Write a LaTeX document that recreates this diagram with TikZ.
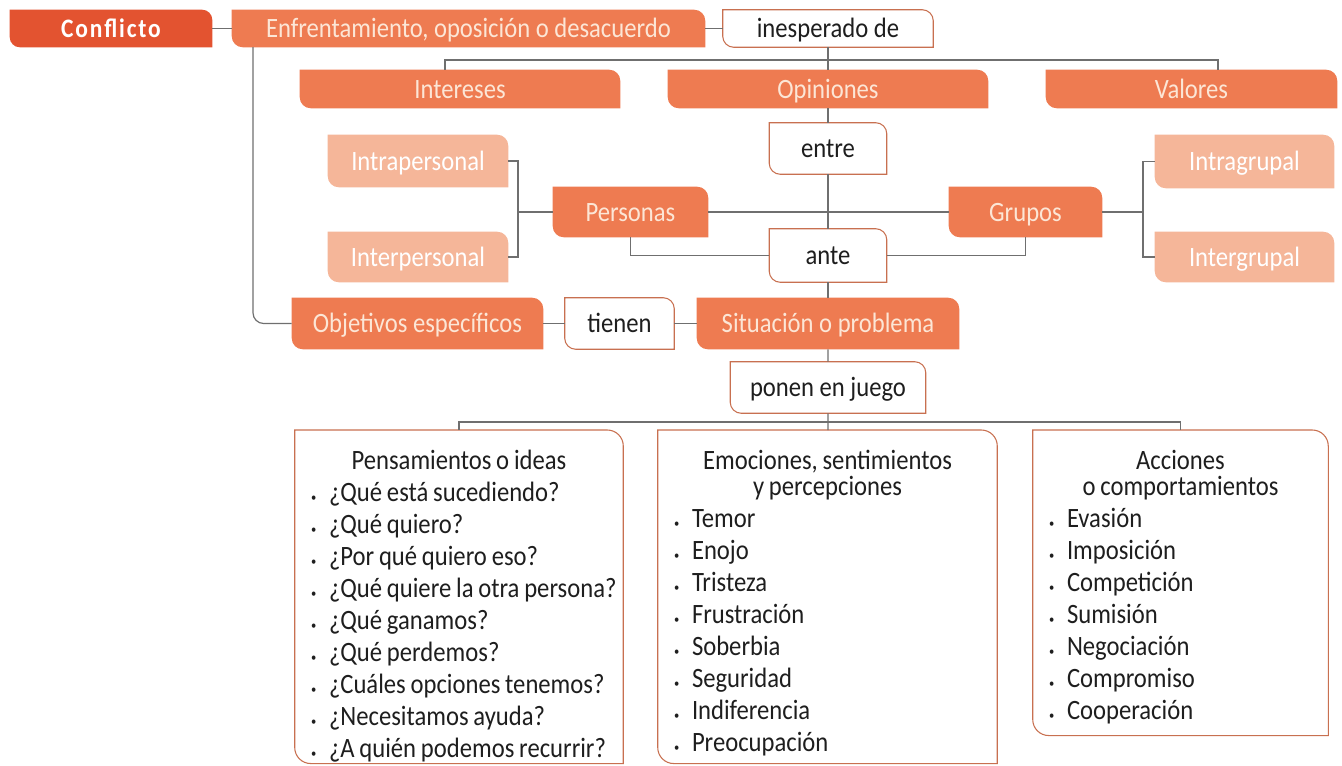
\documentclass[tikz,border=0pt]{standalone}
\usepackage{fontspec}
\setmainfont{Carlito}[FakeStretch=0.88]

\definecolor{redor}{HTML}{E35330}
\definecolor{orng}{HTML}{EE7B51}
\definecolor{salmon}{HTML}{F5B699}
\definecolor{edge}{HTML}{C87050}
\definecolor{linegray}{HTML}{6F6F6F}
\definecolor{cream}{HTML}{FCE6D6}
\definecolor{ink}{HTML}{1E1E1E}

\newdimen\pxu \pxu=0.75pt
\newskip\listspace \listspace=3.6pt plus 1pt minus 0.6pt
\pgfdeclarelayer{bg}
\pgfsetlayers{bg,main}

% box with round top right and bottom left corners
\newcommand{\tabfill}[3][11]{%
  \path[#3] (#2.north west) -- ([xshift=-#1\pxu]#2.north east)
    arc[start angle=90, end angle=0, radius=#1\pxu] -- (#2.south east)
    -- ([xshift=#1\pxu]#2.south west)
    arc[start angle=270, end angle=180, radius=#1\pxu] -- cycle;}
\newcommand{\itm}[1]{\mbox{\makebox[18\pxu][l]{\small\textbullet}#1}}
\newcommand{\ttl}[1]{\makebox[\linewidth]{#1}}

\tikzset{
  every node/.style={inner sep=0pt, font=\fontsize{21}{24}\selectfont, text height=13.5pt, text depth=0pt},
  headbox/.style={text=white, font=\fontsize{20}{22}\selectfont\bfseries\addfontfeature{LetterSpace=7}},
  orbox/.style={text=cream},
  lightbox/.style={text=white},
  wordbox/.style={text=ink},
  listbox/.style={anchor=north, inner xsep=16\pxu, inner ysep=0pt, text=ink, align=left,
    text height=39\pxu, font=\fontsize{21}{24}\selectfont,
    execute at begin node={\spaceskip=\listspace}},
  link/.style={draw=linegray, line width=0.9pt},
}

\begin{document}
\begin{tikzpicture}[x=0.75pt, y=-0.75pt]
\useasboundingbox (0,0) rectangle (1342,765);

% top row
\node (conf) [headbox, minimum width=202\pxu, minimum height=37\pxu] at (111,28.5) {Conflicto};
\node (enf) [orbox, minimum width=473\pxu, minimum height=37\pxu] at (468.5,28.5) {Enfrentamiento, oposición o desacuerdo};
\node (ines) [wordbox, minimum width=210\pxu, minimum height=37\pxu] at (828,28.5) {inesperado de};

% intereses, opiniones, valores
\node (int) [orbox, minimum width=320\pxu, minimum height=38\pxu] at (460,89) {Intereses};
\node (opi) [orbox, minimum width=320\pxu, minimum height=38\pxu] at (828,89) {Opiniones};
\node (val) [orbox, minimum width=291\pxu, minimum height=38\pxu] at (1191.5,89) {Valores};

% entre / ante
\node (entre) [wordbox, minimum width=117\pxu, minimum height=51\pxu] at (828,148.5) {entre};
\node (ante) [wordbox, minimum width=117\pxu, minimum height=53\pxu] at (828,255.5) {ante};

% personas y grupos
\node (per) [orbox, minimum width=155\pxu, minimum height=50\pxu] at (630.5,212) {Personas};
\node (gru) [orbox, minimum width=153\pxu, minimum height=50\pxu] at (1025.5,212) {Grupos};
\node (intra) [lightbox, minimum width=180\pxu, minimum height=52\pxu] at (418,161) {Intrapersonal};
\node (inter) [lightbox, minimum width=180\pxu, minimum height=50\pxu] at (418,257) {Interpersonal};
\node (igr) [lightbox, minimum width=179\pxu, minimum height=53\pxu] at (1244.5,161.5) {Intragrupal};
\node (egr) [lightbox, minimum width=179\pxu, minimum height=50\pxu] at (1244.5,257) {Intergrupal};

% objetivos / situacion
\node (obj) [orbox, minimum width=251\pxu, minimum height=51\pxu] at (417.5,323.5) {Objetivos específicos};
\node (tienen) [wordbox, minimum width=109\pxu, minimum height=51\pxu] at (619.5,323.5) {tienen};
\node (sit) [orbox, minimum width=262\pxu, minimum height=51\pxu] at (828,323.5) {Situación o problema};
\node (ponen) [wordbox, minimum width=195\pxu, minimum height=51\pxu] at (828,387.5) {ponen en juego};

% lists
\node (pens) [listbox, text width=296\pxu, text depth=294\pxu] at (459,430)
  {\ttl{Pensamientos o ideas}\\
   \itm{¿Qué está sucediendo?}\\
   \itm{¿Qué quiero?}\\
   \itm{¿Por qué quiero eso?}\\
   \itm{¿Qué quiere la otra persona?}\\
   \itm{¿Qué ganamos?}\\
   \itm{¿Qué perdemos?}\\
   \itm{¿Cuáles opciones tenemos?}\\
   \itm{¿Necesitamos ayuda?}\\
   \itm{¿A quién podemos recurrir?}};
\node (emo) [listbox, text width=307\pxu, text depth=294\pxu] at (827.5,430)
  {\ttl{Emociones, sentimientos}\\[-4pt]
   \ttl{y percepciones}\\
   \itm{Temor}\\
   \itm{Enojo}\\
   \itm{Tristeza}\\
   \itm{Frustración}\\
   \itm{Soberbia}\\
   \itm{Seguridad}\\
   \itm{Indiferencia}\\
   \itm{Preocupación}};
\node (acc) [listbox, text width=263\pxu, text depth=266\pxu] at (1180.5,430)
  {\ttl{Acciones}\\[-4pt]
   \ttl{o comportamientos}\\
   \itm{Evasión}\\
   \itm{Imposición}\\
   \itm{Competición}\\
   \itm{Sumisión}\\
   \itm{Negociación}\\
   \itm{Compromiso}\\
   \itm{Cooperación}};

% box shapes
\begin{pgfonlayer}{bg}
  \tabfill[10]{conf}{fill=redor}
  \foreach \n in {enf,int,opi,val,per,gru,obj,sit} {\tabfill{\n}{fill=orng}}
  \foreach \n in {intra,inter,igr,egr} {\tabfill{\n}{fill=salmon}}
  \foreach \n in {ines,entre,ante,tienen,ponen} {\tabfill{\n}{fill=white, draw=edge, line width=0.8pt}}
  \foreach \n in {pens,emo,acc} {\tabfill[16]{\n}{fill=white, draw=edge, line width=0.8pt}}
\end{pgfonlayer}

% connectors
\coordinate (barL) at (445,60);
\coordinate (barR) at (1218,60);
\coordinate (brL) at (518,212);
\coordinate (brR) at (1143,212);
\coordinate (drop) at (253,47);
\coordinate (bar2) at (828,422);
\draw [link] (conf) -- (enf);
\draw [link] (enf) -- (ines);
\draw [link] (ines) -- (opi);
\draw [link] (int.north -| barL) |- (barR) -- (barR |- val.north);
\draw [link] (opi) -- (entre) -- (ante) -- (sit);
\draw [link] (per) -- (gru);
\draw [link] (per) |- (ante);
\draw [link] (ante) -| (gru);
\draw [link] (intra) -| (brL) |- (inter);
\draw [link] (brL) -- (per);
\draw [link] (igr) -| (brR) |- (egr);
\draw [link] (brR) -- (gru);
\draw [link, rounded corners=8pt] (drop) |- (obj);
\draw [link] (obj) -- (tienen) -- (sit);
\draw [link] (sit) -- (ponen) -- (emo);
\draw [link] (pens.north) |- (bar2) -| (acc.north);
\end{tikzpicture}
\end{document}
